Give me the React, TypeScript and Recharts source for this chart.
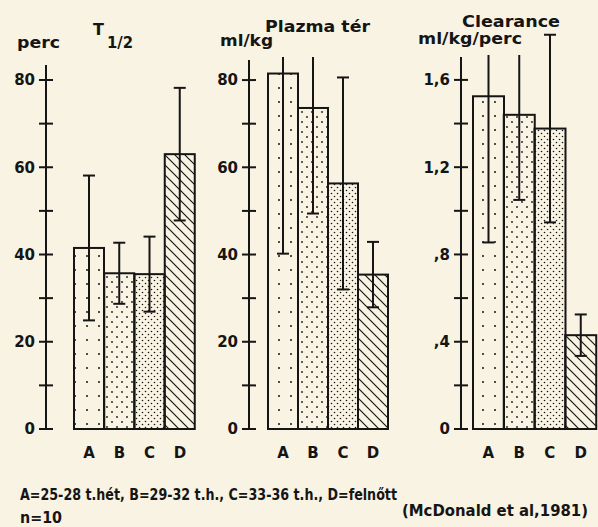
import { BarChart, Bar, XAxis, YAxis } from "recharts";

const INK = "#151515";
const PAPER = "#f9f3e3";
const FONT = "'DejaVu Sans', sans-serif";

// groups: A=25-28 t.hét, B=29-32 t.h., C=33-36 t.h., D=felnőtt
const groups = ["A", "B", "C", "D"];

// T 1/2 (perc)
const halfLife = [41.5, 35.7, 35.5, 63];
const halfLifeErr = [16.6, 7, 8.6, 15.2];

// Plazma tér (ml/kg)
const plasma = [81.5, 73.6, 56.3, 35.4];
const plasmaErr = [41.3, 24.2, 24.3, 7.5];

// Clearance (ml/kg/perc)
const clearance = [1.525, 1.44, 1.377, 0.43];
const clearanceErr = [0.67, 0.39, 0.43, 0.095];

const ticks80 = [0, 10, 20, 30, 40, 50, 60, 70, 80];
const tickLabels80 = ["0", "", "20", "", "40", "", "60", "", "80"];
const clearanceTicks = [0, 0.2, 0.4, 0.6, 0.8, 1, 1.2, 1.4, 1.6];
const clearanceTickLabels = ["0", "", ",4", "", ",8", "", "1,2", "", "1,6"];

const patterns = ["patA", "patB", "patC", "patD"];

function BarWithError(props: any) {
  const { x, y, width, height, index, payload } = props;
  const k = payload.v > 0 ? height / payload.v : 0;
  const cx = x + width / 2;
  const yTop = y - payload.e * k;
  const yBot = y + payload.e * k;
  return (
    <g>
      <rect x={x} y={y} width={width} height={height} fill={`url(#${patterns[index]})`} stroke={INK} strokeWidth={2} />
      <line x1={cx} x2={cx} y1={yTop} y2={yBot} stroke={INK} strokeWidth={2} />
      <line x1={cx - 6} x2={cx + 6} y1={yTop} y2={yTop} stroke={INK} strokeWidth={2} />
      <line x1={cx - 6} x2={cx + 6} y1={yBot} y2={yBot} stroke={INK} strokeWidth={2} />
    </g>
  );
}

function Panel({ values, errs, ticks, tickLabels, top, axisX, axisTop, padLeft, plotRight }: any) {
  const data = groups.map((g, i) => ({ g, v: values[i], e: errs[i] }));
  const YTick = (p: any) => (
    <g>
      <line x1={p.x - 7} x2={p.x + 7} y1={p.y} y2={p.y} stroke={INK} strokeWidth={2} />
      <text x={p.x - 11} y={p.y} dy="0.36em" textAnchor="end" fontFamily={FONT} fontWeight="bold" fontSize={15} fill={INK}>
        {tickLabels[p.index]}
      </text>
    </g>
  );
  const XTick = (p: any) => (
    <text x={p.x} y={p.y + 29} textAnchor="middle" fontFamily={FONT} fontWeight="bold" fontSize={15} fill={INK}>
      {p.payload.value}
    </text>
  );
  return (
    <div style={{ position: "absolute", left: 0, top: 0 }}>
      <BarChart
        width={plotRight + 2}
        height={469}
        data={data}
        barCategoryGap={0}
        margin={{ top: axisTop, right: 2, left: 0, bottom: 0 }}
      >
        <XAxis
          dataKey="g"
          height={40}
          axisLine={false}
          tickLine={false}
          tickSize={0}
          tickMargin={0}
          padding={{ left: padLeft, right: 0 }}
          interval={0}
          tick={XTick}
        />
        <YAxis
          width={axisX}
          domain={[0, top]}
          ticks={ticks}
          interval={0}
          axisLine={{ stroke: INK, strokeWidth: 2 }}
          tickLine={false}
          tickSize={0}
          tickMargin={0}
          tick={YTick}
        />
        <Bar dataKey="v" isAnimationActive={false} shape={BarWithError} />
      </BarChart>
    </div>
  );
}

const txt = { fontFamily: FONT, fontWeight: "bold" as const, fill: INK };

export default function App() {
  return (
    <div style={{ position: "absolute", left: 0, top: 0, width: 598, height: 527, background: PAPER, overflow: "hidden" }}>
      <svg width={0} height={0} style={{ position: "absolute" }}>
        <defs>
          <pattern id="patA" patternUnits="userSpaceOnUse" width={12} height={14}>
            <circle cx={3} cy={4} r={1} fill={INK} />
          </pattern>
          <pattern id="patB" patternUnits="userSpaceOnUse" width={10} height={10}>
            <circle cx={2} cy={2} r={0.9} fill={INK} />
            <circle cx={7} cy={7} r={0.9} fill={INK} />
          </pattern>
          <pattern id="patC" patternUnits="userSpaceOnUse" width={6} height={6}>
            <circle cx={1.5} cy={1.5} r={0.8} fill={INK} />
            <circle cx={4.5} cy={4.5} r={0.8} fill={INK} />
          </pattern>
          <pattern id="patD" patternUnits="userSpaceOnUse" width={10} height={10}>
            <path d="M0,0 L10,10 M-1,9 L1,11 M9,-1 L11,1" stroke={INK} strokeWidth={1.2} />
          </pattern>
        </defs>
      </svg>
      <Panel values={halfLife} errs={halfLifeErr} ticks={ticks80} tickLabels={tickLabels80}
        top={83.44} axisX={46} axisTop={65} padLeft={28} plotRight={195} />
      <Panel values={plasma} errs={plasmaErr} ticks={ticks80} tickLabels={tickLabels80}
        top={84.6} axisX={249} axisTop={60} padLeft={19} plotRight={388} />
      <Panel values={clearance} errs={clearanceErr} ticks={clearanceTicks} tickLabels={clearanceTickLabels}
        top={1.705} axisX={461} axisTop={57} padLeft={12} plotRight={596} />
      <svg width={598} height={527} style={{ position: "absolute", left: 0, top: 0 }}>
        <rect x={262} y={0} width={116} height={57} fill={PAPER} />
        <rect x={470} y={0} width={60} height={55} fill={PAPER} />
        <text x={17} y={48} fontSize={15} textLength={43} lengthAdjust="spacingAndGlyphs" {...txt}>perc</text>
        <text x={93} y={35} fontSize={16} {...txt}>T</text>
        <text x={107} y={48} fontSize={15} textLength={26} lengthAdjust="spacingAndGlyphs" {...txt}>1/2</text>
        <text x={220} y={46} fontSize={15} textLength={53} lengthAdjust="spacingAndGlyphs" {...txt}>ml/kg</text>
        <text x={265} y={32} fontSize={15} textLength={105} lengthAdjust="spacingAndGlyphs" {...txt}>Plazma tér</text>
        <text x={462} y={27} fontSize={15} textLength={98} lengthAdjust="spacingAndGlyphs" {...txt}>Clearance</text>
        <text x={418} y={44} fontSize={15} textLength={104} lengthAdjust="spacingAndGlyphs" {...txt}>ml/kg/perc</text>
        <text x={20} y={500} fontSize={16} textLength={377} lengthAdjust="spacingAndGlyphs" {...txt}>
          A=25-28 t.hét,  B=29-32 t.h., C=33-36 t.h., D=felnőtt
        </text>
        <text x={20} y={523} fontSize={16} textLength={42} lengthAdjust="spacingAndGlyphs" {...txt}>n=10</text>
        <text x={402} y={516} fontSize={15} textLength={186} lengthAdjust="spacingAndGlyphs" {...txt}>(McDonald et al,1981)</text>
      </svg>
    </div>
  );
}
